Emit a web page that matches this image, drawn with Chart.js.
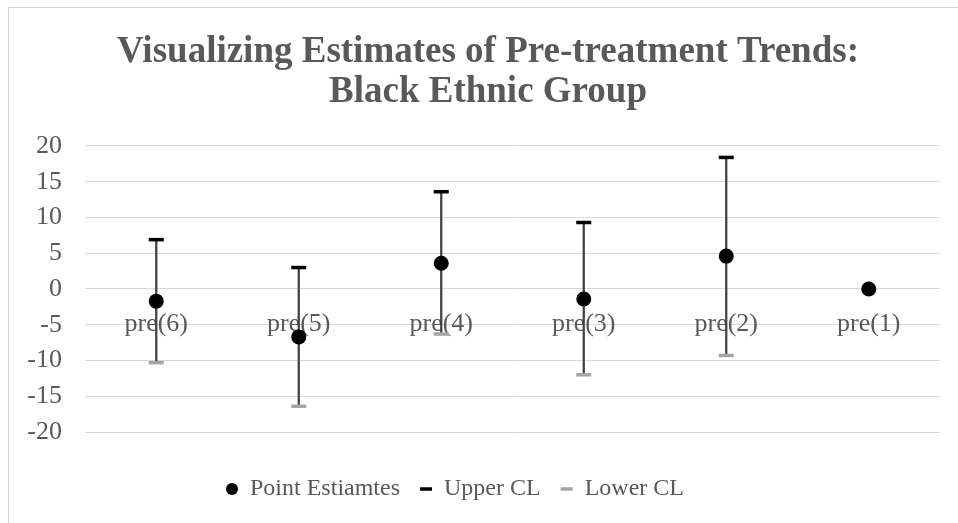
<!DOCTYPE html>
<html>
<head>
<meta charset="utf-8">
<script src="https://cdn.jsdelivr.net/npm/chart.js@4/dist/chart.umd.min.js"></script>
<style>
  html, body { margin: 0; padding: 0; background: #ffffff; }
  #frame { position: absolute; left: 8px; top: 7px; width: 1200px; height: 800px; border: 1px solid #d9d9d9; }
  #wrap { position: absolute; left: 0; top: 0; width: 958px; height: 523px; }
</style>
</head>
<body>
<div id="frame"></div>
<div id="wrap"><canvas id="c" width="958" height="523"></canvas></div>
<script>
// Event-study pre-period estimates with 95% confidence limits
const periods = ['pre(6)', 'pre(5)', 'pre(4)', 'pre(3)', 'pre(2)', 'pre(1)'];
const pointEstimates = [-1.7, -6.7, 3.6, -1.4, 4.6, 0];
const upperCL = [6.9, 3.0, 13.6, 9.3, 18.4, null];
const lowerCL = [-10.3, -16.4, -6.3, -12.0, -9.3, null];
const yTicks = [20, 15, 10, 5, 0, -5, -10, -15, -20];

const textColor = '#595959';
const serif = '"Liberation Serif", "Times New Roman", serif';

// vertical high-low segments from lower to upper limit
const ranges = periods.map((_, i) =>
  (upperCL[i] === null || lowerCL[i] === null) ? null : [lowerCL[i], upperCL[i]]);

// title and legend are centred on the outer frame rather than the canvas
const frameCentering = {
  id: 'frameCentering',
  afterLayout(chart) {
    chart.titleBlock.left += 36;
    chart.legend.left -= 30;
  }
};

new Chart(document.getElementById('c'), {
  plugins: [frameCentering],
  data: {
    labels: periods,
    datasets: [
      {
        type: 'line',
        label: 'Point Estiamtes',
        data: pointEstimates,
        showLine: false,
        pointStyle: 'circle',
        pointRadius: 7.5,
        pointHoverRadius: 7.5,
        pointBackgroundColor: '#000000',
        pointBorderColor: '#000000',
        pointBorderWidth: 0,
        order: 0
      },
      {
        type: 'line',
        label: 'Upper CL',
        data: upperCL,
        showLine: false,
        pointStyle: 'line',
        pointRadius: 7.5,
        pointHoverRadius: 7.5,
        pointBorderColor: '#000000',
        pointBackgroundColor: '#000000',
        pointBorderWidth: 3.5,
        order: 1
      },
      {
        type: 'line',
        label: 'Lower CL',
        data: lowerCL,
        showLine: false,
        pointStyle: 'line',
        pointRadius: 7.5,
        pointHoverRadius: 7.5,
        pointBorderColor: '#a5a5a5',
        pointBackgroundColor: '#a5a5a5',
        pointBorderWidth: 3.5,
        order: 2
      },
      {
        type: 'bar',
        label: 'range',
        data: ranges,
        backgroundColor: '#404040',
        barThickness: 1.6,
        order: 3
      }
    ]
  },
  options: {
    responsive: false,
    animation: false,
    layout: { padding: { left: 0, right: 18, top: 0, bottom: 12 } },
    plugins: {
      tooltip: { enabled: false },
      title: {
        display: true,
        text: ['Visualizing Estimates of Pre-treatment Trends:', 'Black Ethnic Group'],
        color: textColor,
        font: { family: serif, size: 37, weight: 'bold', lineHeight: 1.081 },
        padding: { top: 32.5, bottom: 33.5 }
      },
      legend: {
        position: 'bottom',
        labels: {
          filter: item => item.text !== 'range',
          usePointStyle: true,
          pointStyleWidth: 12,
          boxHeight: 8.5,
          padding: 20,
          color: textColor,
          font: { family: serif, size: 24 }
        }
      }
    },
    scales: {
      x: {
        type: 'category',
        position: { y: 0 },
        offset: true,
        grid: { display: false, drawTicks: false },
        border: { display: false },
        ticks: { color: textColor, font: { family: serif, size: 26 }, padding: 20, maxRotation: 0 }
      },
      // empty band between the plot and the legend
      gap: {
        type: 'category',
        position: 'bottom',
        grid: { display: false, drawTicks: false },
        border: { display: false },
        ticks: { display: false },
        afterFit: s => { s.height = 25; }
      },
      y: {
        min: -20,
        max: 20,
        afterFit: s => { s.width = 85; },
        afterBuildTicks: s => { s.ticks = yTicks.map(v => ({ value: v })); },
        grid: { color: '#d9d9d9', lineWidth: 1, drawTicks: false },
        border: { display: false },
        ticks: { color: textColor, font: { family: serif, size: 26 }, padding: 23 }
      }
    }
  }
});
</script>
</body>
</html>
